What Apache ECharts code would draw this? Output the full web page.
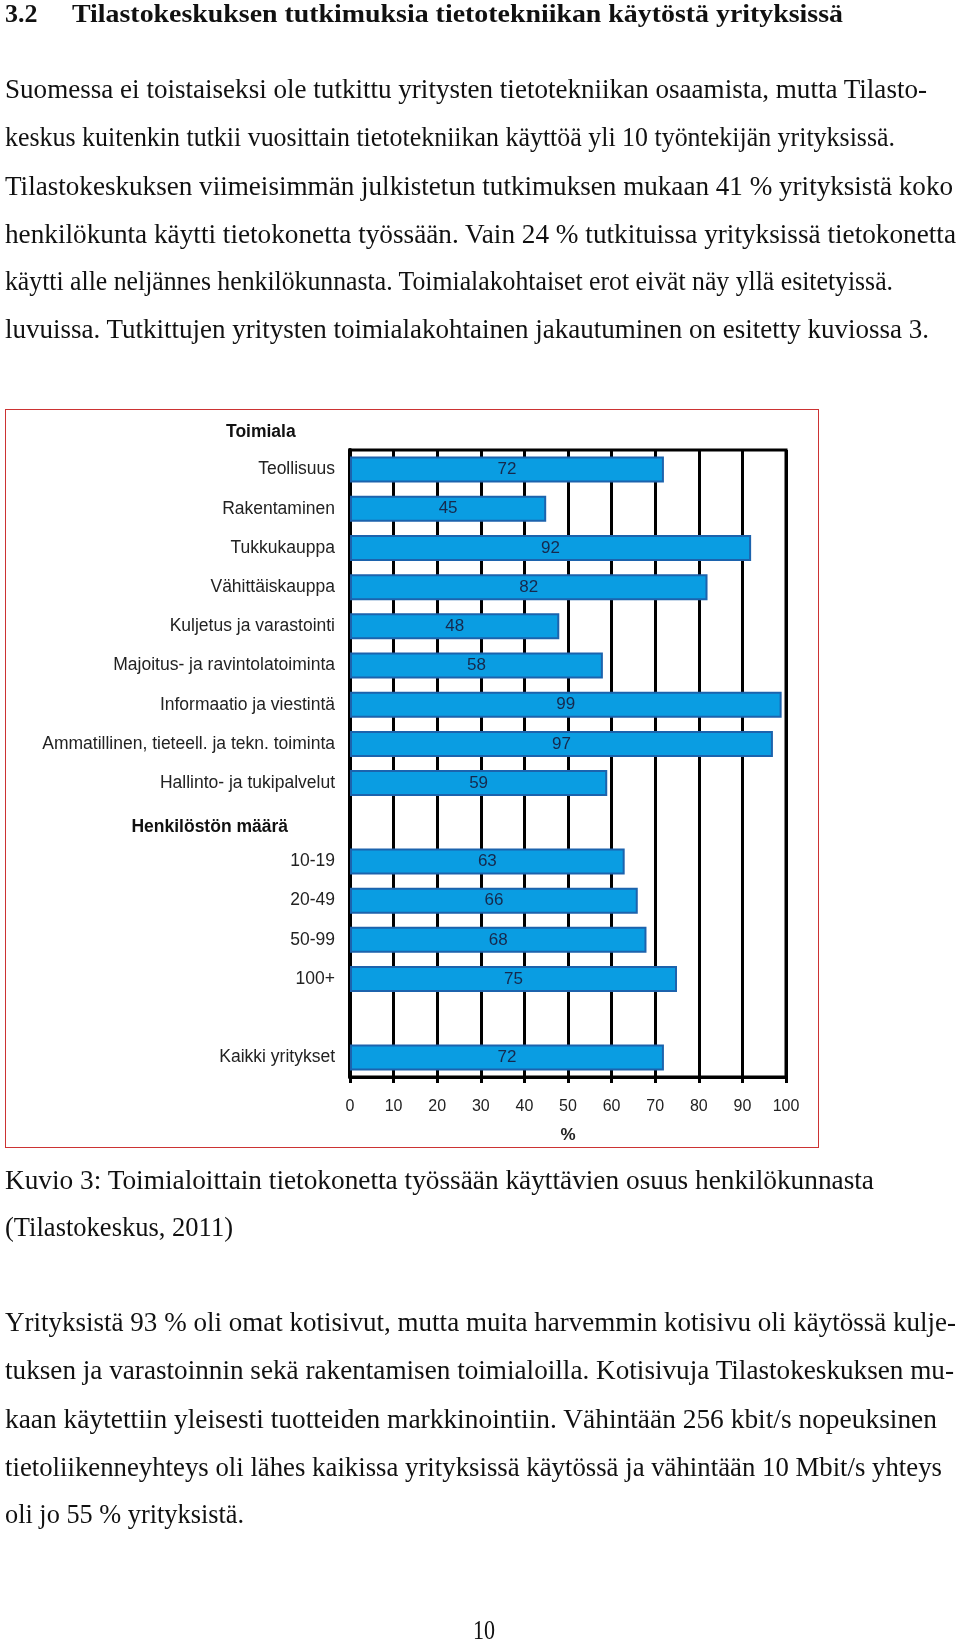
<!DOCTYPE html>
<html><head><meta charset="utf-8">
<script src="https://cdn.jsdelivr.net/npm/echarts@6/dist/echarts.min.js"></script>
<style>
html,body{margin:0;padding:0;background:#fff;}
#page{position:relative;width:960px;height:1642px;overflow:hidden;background:#fff;}
#chart{position:absolute;left:0;top:0;width:960px;height:1642px;}
.ln{position:absolute;white-space:nowrap;font-family:"Liberation Serif",serif;font-size:28px;color:#111;line-height:40px;height:40px;transform-origin:0 50%;}
.hd{font-weight:bold;font-size:26px;}
#box{position:absolute;left:5px;top:409px;width:812px;height:737px;border:1.5px solid #cc3333;}
</style></head>
<body><div id="page">
<div id="box"></div>
<div id="chart"></div>
</div>
<script>
var categories = ['Teollisuus','Rakentaminen','Tukkukauppa','Vähittäiskauppa','Kuljetus ja varastointi','Majoitus- ja ravintolatoiminta','Informaatio ja viestintä','Ammatillinen, tieteell. ja tekn. toiminta','Hallinto- ja tukipalvelut','Henkilöstön määrä','10-19','20-49','50-99','100+','','Kaikki yritykset'];
var values = [72,45,92,82,48,58,99,97,59,null,63,66,68,75,null,72];
var groupHeaders = ['Toimiala','Henkilöstön määrä'];
var xTicks = [0,10,20,30,40,50,60,70,80,90,100];
var axisName = '%';

var textLines = [
 ['3.2', 5, 14, 0, 'hd'],
 ['Tilastokeskuksen tutkimuksia tietotekniikan käytöstä yrityksissä', 72, 14, 843, 'hd'],
 ['Suomessa ei toistaiseksi ole tutkittu yritysten tietotekniikan osaamista, mutta Tilasto-', 5, 89, 927],
 ['keskus kuitenkin tutkii vuosittain tietotekniikan käyttöä yli 10 työntekijän yrityksissä.', 5, 137, 895],
 ['Tilastokeskuksen viimeisimmän julkistetun tutkimuksen mukaan 41 % yrityksistä koko', 5, 186, 953],
 ['henkilökunta käytti tietokonetta työssään. Vain 24 % tutkituissa yrityksissä tietokonetta', 5, 234, 956],
 ['käytti alle neljännes henkilökunnasta. Toimialakohtaiset erot eivät näy yllä esitetyissä.', 5, 281, 893],
 ['luvuissa. Tutkittujen yritysten toimialakohtainen jakautuminen on esitetty kuviossa 3.', 5, 329, 929],
 ['Kuvio 3: Toimialoittain tietokonetta työssään käyttävien osuus henkilökunnasta', 5, 1180, 874],
 ['(Tilastokeskus, 2011)', 5, 1227, 233],
 ['Yrityksistä 93 % oli omat kotisivut, mutta muita harvemmin kotisivu oli käytössä kulje-', 5, 1322, 956],
 ['tuksen ja varastoinnin sekä rakentamisen toimialoilla. Kotisivuja Tilastokeskuksen mu-', 5, 1370, 954],
 ['kaan käytettiin yleisesti tuotteiden markkinointiin. Vähintään 256 kbit/s nopeuksinen', 5, 1419, 937],
 ['tietoliikenneyhteys oli lähes kaikissa yrityksissä käytössä ja vähintään 10 Mbit/s yhteys', 5, 1467, 942],
 ['oli jo 55 % yrityksistä.', 5, 1514, 244],
 ['10', 473, 1630, 495]
];

var page = document.getElementById('page');
textLines.forEach(function(t){
  var d = document.createElement('div');
  d.className = 'ln' + (t[4] ? ' ' + t[4] : '');
  d.textContent = t[0];
  d.style.left = t[1] + 'px';
  d.style.top = (t[2] - 20) + 'px';
  page.appendChild(d);
  if (t[3] > 0) {
    var w = d.getBoundingClientRect().width;
    var target = t[3] - t[1];
    if (w > 0) d.style.transform = 'scaleX(' + (target / w) + ')';
  }
});

var chart = echarts.init(document.getElementById('chart'), null, {renderer:'canvas'});
var font = '"Liberation Sans", Arial, sans-serif';
chart.setOption({
  animation: false,
  grid: {left: 350, top: 450, width: 436, height: 627, show: true, borderColor: '#000', borderWidth: 3, backgroundColor: 'transparent', containLabel: false},
  graphic: [{
    type: 'text', left: 226, top: 423,
    style: {text: groupHeaders[0], font: 'bold 17.5px ' + font, fill: '#111'}
  }],
  xAxis: {
    type: 'value', min: 0, max: 100, interval: 10,
    name: axisName, nameLocation: 'middle', nameGap: 50,
    nameTextStyle: {fontFamily: font, fontSize: 17, color: '#222', fontWeight: 'bold'},
    axisLine: {show: true, lineStyle: {color: '#000', width: 3}},
    axisTick: {show: true, length: 6, lineStyle: {color: '#000', width: 3}},
    axisLabel: {fontFamily: font, fontSize: 16, color: '#222', margin: 22,
      formatter: function(v){ return xTicks.indexOf(v) >= 0 ? String(v) : ''; }},
    splitLine: {show: true, lineStyle: {color: '#000', width: 3}}
  },
  yAxis: {
    type: 'category', data: categories, inverse: true,
    axisLine: {show: true, lineStyle: {color: '#000', width: 4}},
    axisTick: {show: false},
    axisLabel: {fontFamily: font, fontSize: 17.5, color: '#222', margin: 15, interval: 0,
      formatter: function(v){ return v === groupHeaders[1] ? '{h|' + v + '}' : v; },
      rich: {h: {fontFamily: font, fontSize: 17.5, fontWeight: 'bold', color: '#111', padding: [10, 47, 0, 0]}}}
  },
  series: [{
    type: 'bar', data: values, barWidth: 26,
    itemStyle: {color: '#0a9de2', borderColor: '#1c63ad', borderWidth: 2},
    label: {show: true, position: 'inside', fontFamily: font, fontSize: 17, color: '#16294d'}
  }]
});
</script>
</body></html>
